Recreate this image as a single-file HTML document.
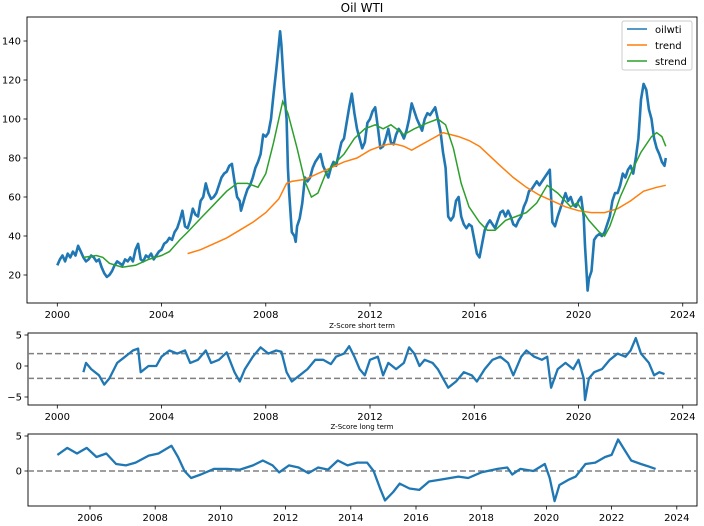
<!DOCTYPE html>
<html><head><meta charset="utf-8"><style>
body{margin:0;background:#fff;}
svg{display:block;font-family:"DejaVu Sans","Liberation Sans",sans-serif;}
</style></head><body>
<svg id="c" width="704" height="526" viewBox="0 0 704 526">
<text x="362" y="12" font-size="12" text-anchor="middle">Oil WTI</text>
<rect x="27" y="17" width="670" height="286" fill="none" stroke="#000" stroke-width="0.9"/>
<rect x="28" y="333" width="669" height="72" fill="none" stroke="#000" stroke-width="0.9"/>
<rect x="28" y="434" width="669" height="72" fill="none" stroke="#000" stroke-width="0.9"/>
<text x="362" y="328" font-size="7" text-anchor="middle">Z-Score short term</text>
<text x="362" y="429" font-size="7" text-anchor="middle">Z-Score long term</text>
<g id="g"></g>
<g>
<rect x="622" y="21" width="70" height="49" fill="#fff" fill-opacity="0.8" stroke="#ccc" rx="2"/>
<line x1="627" y1="29" x2="647" y2="29" stroke="#1f77b4" stroke-width="1.5"/>
<text x="655" y="33" font-size="10">oilwti</text>
<line x1="627" y1="45" x2="647" y2="45" stroke="#ff7f0e" stroke-width="1.5"/>
<text x="655" y="49" font-size="10">trend</text>
<line x1="627" y1="61" x2="647" y2="61" stroke="#2ca02c" stroke-width="1.5"/>
<text x="655" y="65" font-size="10">strend</text>
</g>
</svg>
<script>
const oilYears=[2000.0,2000.1,2000.2,2000.3,2000.4,2000.5,2000.6,2000.7,2000.8,2000.9,2001.0,2001.1,2001.2,2001.3,2001.4,2001.5,2001.6,2001.7,2001.8,2001.9,2002.0,2002.1,2002.2,2002.3,2002.4,2002.5,2002.6,2002.7,2002.8,2002.9,2003.0,2003.1,2003.2,2003.3,2003.4,2003.5,2003.6,2003.7,2003.8,2003.9,2004.0,2004.1,2004.2,2004.3,2004.4,2004.5,2004.6,2004.7,2004.8,2004.9,2005.0,2005.1,2005.2,2005.3,2005.4,2005.5,2005.6,2005.7,2005.8,2005.9,2006.0,2006.1,2006.2,2006.3,2006.4,2006.5,2006.6,2006.7,2006.8,2006.9,2007.0,2007.05,2007.2,2007.3,2007.4,2007.5,2007.6,2007.7,2007.8,2007.9,2008.0,2008.1,2008.2,2008.3,2008.4,2008.5,2008.55,2008.6,2008.7,2008.8,2008.85,2008.9,2009.0,2009.1,2009.15,2009.2,2009.3,2009.4,2009.5,2009.6,2009.7,2009.8,2009.9,2010.0,2010.1,2010.2,2010.3,2010.4,2010.5,2010.6,2010.7,2010.8,2010.9,2011.0,2011.1,2011.2,2011.3,2011.4,2011.5,2011.6,2011.7,2011.8,2011.9,2012.0,2012.1,2012.2,2012.3,2012.4,2012.5,2012.6,2012.7,2012.8,2012.9,2013.0,2013.1,2013.2,2013.3,2013.4,2013.5,2013.6,2013.7,2013.8,2013.9,2014.0,2014.1,2014.2,2014.3,2014.4,2014.5,2014.6,2014.7,2014.8,2014.9,2015.0,2015.1,2015.2,2015.3,2015.4,2015.5,2015.6,2015.7,2015.8,2015.9,2016.0,2016.1,2016.2,2016.3,2016.4,2016.5,2016.6,2016.7,2016.8,2016.9,2017.0,2017.1,2017.2,2017.3,2017.4,2017.5,2017.6,2017.7,2017.8,2017.9,2018.0,2018.1,2018.2,2018.3,2018.4,2018.5,2018.6,2018.7,2018.8,2018.9,2018.95,2019.0,2019.1,2019.2,2019.3,2019.4,2019.5,2019.6,2019.7,2019.8,2019.9,2020.0,2020.1,2020.2,2020.25,2020.3,2020.35,2020.4,2020.5,2020.6,2020.7,2020.8,2020.9,2021.0,2021.1,2021.2,2021.3,2021.4,2021.5,2021.6,2021.7,2021.8,2021.9,2022.0,2022.1,2022.2,2022.3,2022.4,2022.5,2022.6,2022.7,2022.8,2022.9,2023.0,2023.1,2023.2,2023.3,2023.35];
const oilValues=[25,28,30,27,31,29,32,30,35,32,29,27,28,30,29,27,28,24,21,19,20,22,25,27,26,25,28,27,29,27,33,36,28,27,30,29,31,28,30,32,33,36,37,39,38,42,44,48,53,45,44,48,54,51,50,58,60,67,62,59,60,62,66,70,72,73,76,77,68,60,58,53,60,64,66,70,75,78,82,92,91,93,100,113,125,138,145,138,116,100,75,62,42,40,37,45,49,57,70,68,70,75,78,80,82,76,73,70,75,78,76,82,88,90,98,106,113,103,95,90,85,88,98,100,104,106,96,85,86,90,95,88,87,92,95,93,90,94,100,108,104,100,97,94,100,103,102,104,106,100,94,83,75,50,48,50,58,60,50,46,44,46,45,38,31,29,36,43,46,48,46,44,48,52,53,50,53,50,46,45,48,50,55,58,63,64,66,68,66,68,70,72,74,60,47,45,50,54,58,62,58,60,56,55,58,60,50,35,24,12,18,22,38,40,41,40,42,46,50,58,62,62,66,72,70,74,76,72,80,90,110,118,115,105,100,90,85,82,78,76,80,74,70,73];
const trendYears=[2005.0,2005.5,2006.0,2006.5,2007.0,2007.5,2008.0,2008.5,2008.8,2009.0,2009.5,2010.0,2010.5,2011.0,2011.5,2012.0,2012.4,2012.7,2013.0,2013.3,2013.6,2014.0,2014.4,2014.8,2015.1,2015.4,2015.8,2016.2,2016.6,2017.0,2017.5,2018.0,2018.5,2019.0,2019.5,2020.0,2020.5,2021.0,2021.5,2022.0,2022.5,2023.0,2023.35];
const trendValues=[31,33,36,39,43,47,52,59,67,68,69,72,75,78,80,84,86,87,87,86,84,87,90,93,92,91,89,86,81,76,70,65,61,58,55,53,52,52,54,58,63,65,66];
const strendYears=[2001.0,2001.5,2001.75,2002.0,2002.5,2003.0,2003.5,2004.0,2004.3,2004.7,2005.0,2005.5,2006.0,2006.5,2006.9,2007.3,2007.7,2008.0,2008.3,2008.65,2008.85,2009.2,2009.5,2009.75,2010.0,2010.3,2010.7,2011.0,2011.4,2011.8,2012.2,2012.5,2012.8,2013.3,2013.7,2014.2,2014.6,2014.9,2015.2,2015.5,2015.8,2016.2,2016.5,2016.8,2017.2,2017.6,2018.0,2018.4,2018.8,2019.2,2019.7,2019.95,2020.1,2020.4,2020.8,2021.0,2021.2,2021.6,2022.0,2022.4,2022.8,2023.0,2023.2,2023.35];
const strendValues=[29,30,29,26,24,25,28,30,32,38,42,49,56,63,67,67,65,72,88,109,103,85,68,60,62,72,78,82,90,95,97,95,97,92,95,98,100,97,85,67,55,47,43,43,48,50,52,57,66,62,55,57,54,48,42,40,45,60,72,83,91,93,91,86];
const shortYears=[2001.0,2001.1,2001.3,2001.6,2001.8,2002.0,2002.3,2002.6,2002.9,2003.1,2003.2,2003.5,2003.8,2004.0,2004.3,2004.6,2004.9,2005.1,2005.4,2005.7,2005.9,2006.2,2006.5,2006.8,2007.0,2007.2,2007.5,2007.8,2008.1,2008.4,2008.6,2008.8,2009.0,2009.3,2009.6,2009.9,2010.2,2010.5,2010.7,2011.0,2011.2,2011.4,2011.6,2011.8,2012.0,2012.3,2012.5,2012.7,2013.0,2013.3,2013.5,2013.7,2013.9,2014.1,2014.4,2014.6,2014.8,2015.0,2015.3,2015.6,2015.9,2016.1,2016.4,2016.7,2017.0,2017.3,2017.5,2017.8,2018.0,2018.3,2018.6,2018.8,2018.95,2019.2,2019.5,2019.8,2020.0,2020.2,2020.25,2020.4,2020.6,2020.9,2021.2,2021.5,2021.8,2022.0,2022.2,2022.4,2022.7,2022.9,2023.1,2023.3];
const shortValues=[-1,0.5,-0.5,-1.5,-3,-2,0.5,1.5,2.5,2.8,-1,0,0,1.5,2.5,2,2.5,0.5,1,2.5,0.5,1,2.2,-1,-2.5,-0.5,1.5,3,2,2.5,2.3,-1,-2.5,-1.5,-0.5,1,1,0.3,1.5,2,3.2,1.5,-0.5,-1.5,1,1.5,-1.5,0.5,-0.5,0.5,3,2,0,1,0.5,-0.5,-2,-3.5,-2.5,-1,-1.5,-2.5,-0.5,1,1.5,0.5,-1.5,1.5,2.5,1.5,1,1.5,-3.5,-0.5,0.5,-0.5,1,-2,-5.5,-2,-1,-0.5,1,2,1.5,2.5,4.5,2,0.5,-1.5,-1,-1.3];
const longYears=[2005.0,2005.3,2005.6,2005.9,2006.2,2006.5,2006.8,2007.1,2007.4,2007.8,2008.1,2008.5,2008.7,2008.9,2009.1,2009.4,2009.8,2010.2,2010.6,2011.0,2011.3,2011.6,2011.8,2012.1,2012.4,2012.7,2013.0,2013.3,2013.6,2013.9,2014.2,2014.5,2014.7,2014.9,2015.05,2015.3,2015.5,2015.8,2016.1,2016.4,2016.8,2017.3,2017.6,2018.0,2018.5,2018.8,2018.95,2019.2,2019.6,2019.95,2020.1,2020.25,2020.4,2020.7,2020.9,2021.2,2021.5,2021.8,2022.0,2022.2,2022.4,2022.6,2022.9,2023.1,2023.35];
const longValues=[2.3,3.3,2.5,3.3,2,2.5,1,0.8,1.2,2.2,2.5,3.6,2,0,-1,-0.5,0.3,0.3,0.2,0.8,1.5,0.8,-0.2,0.8,0.5,-0.3,0.5,0.2,1.5,0.8,1.2,1.2,0,-2.5,-4.2,-3,-1.8,-2.5,-2.7,-1.5,-1.2,-0.8,-1,-0.2,0.3,0.5,-0.5,0.3,0,1,-1,-4.3,-2,-1.2,-0.8,1,1.2,2,2.3,4.5,3,1.5,1,0.7,0.3];
const mainTicksY=[20,40,60,80,100,120,140];
const yearTicks=[2000,2004,2008,2012,2016,2020,2024];
const shortTicksY=[-5,0,5];
const longTicksX=[2006,2008,2010,2012,2014,2016,2018,2020,2022,2024];
const longTicksY=[0,5];

const NS='http://www.w3.org/2000/svg';
const g=document.getElementById('g');
function el(t,a,parent){const e=document.createElementNS(NS,t);for(const k in a)e.setAttribute(k,a[k]);(parent||g).appendChild(e);return e;}
const xMain=y=>57.3+(y-2000)*26.06;
const yMain=v=>275-(v-20)*1.95;
const yShort=v=>366-v*6.2;
const xLong=y=>57.4+(y-2005)*32.6;
const yLong=v=>471-v*7;
function path(xs,vs,fx,fy){return xs.map((x,i)=>(i?'L':'M')+fx(x).toFixed(1)+','+fy(vs[i]).toFixed(1)).join('');}

function xTicks(ticks,fx,yb,fs){ticks.forEach(t=>{
 const l=el('line',{x1:fx(t),x2:fx(t),y1:yb,y2:yb+3.5,stroke:'#000','stroke-width':0.8});
 
 
 const tx=el('text',{x:fx(t),y:yb+15,'font-size':fs,'text-anchor':'middle'});tx.textContent=t;
 
 
});}
function yTicks(ticks,fy,xl,fs,fmt){ticks.forEach(t=>{
 const l=el('line',{x1:xl-3.5,x2:xl,y1:fy(t),y2:fy(t),stroke:'#000','stroke-width':0.8});
 
 
 const tx=el('text',{x:xl-6,y:fy(t)+3.5,'font-size':fs,'text-anchor':'end'});tx.textContent=fmt?fmt(t):t;
 
 
});}
xTicks(yearTicks,xMain,303,10);
yTicks(mainTicksY,yMain,27,10);
xTicks(yearTicks,xMain,405,10);
yTicks(shortTicksY,yShort,28,10,t=>t<0?'\u2212'+(-t):t);
xTicks(longTicksX,xLong,506,10);
yTicks(longTicksY,yLong,28,10);

[2,-2].forEach(v=>{const d=el('line',{x1:28,x2:697,y1:yShort(v),y2:yShort(v),stroke:'#808080','stroke-width':1.5,'stroke-dasharray':'6,3'});
 
 });
const d0=el('line',{x1:28,x2:697,y1:yLong(0),y2:yLong(0),stroke:'#808080','stroke-width':1.5,'stroke-dasharray':'6,3'});



const p1=el('path',{d:path(oilYears,oilValues,xMain,yMain),fill:'none',stroke:'#1f77b4','stroke-width':2.6,'stroke-linejoin':'round'});


const p2=el('path',{d:path(trendYears,trendValues,xMain,yMain),fill:'none',stroke:'#ff7f0e','stroke-width':1.5});


const p3=el('path',{d:path(strendYears,strendValues,xMain,yMain),fill:'none',stroke:'#2ca02c','stroke-width':1.5});


const p4=el('path',{d:path(shortYears,shortValues,xMain,yShort),fill:'none',stroke:'#1f77b4','stroke-width':2.3,'stroke-linejoin':'round'});


const p5=el('path',{d:path(longYears,longValues,xLong,yLong),fill:'none',stroke:'#1f77b4','stroke-width':2.3,'stroke-linejoin':'round'});


</script>
</body></html>
